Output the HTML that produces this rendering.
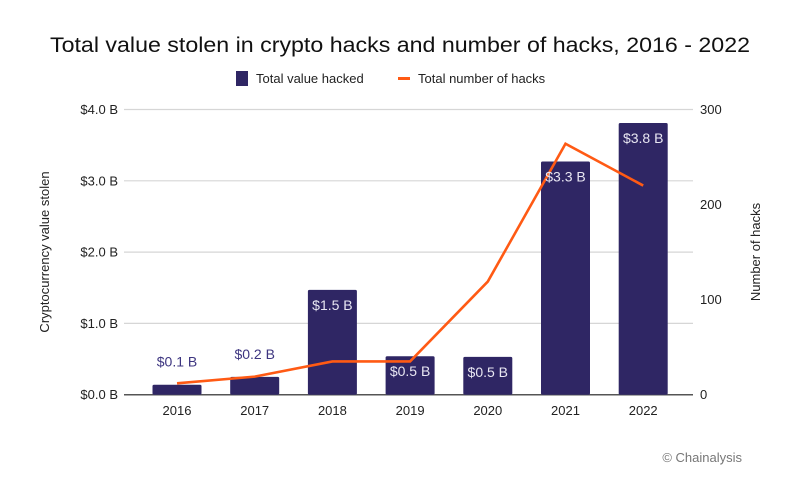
<!DOCTYPE html>
<html><head><meta charset="utf-8"><style>
body{margin:0;background:#fff;font-family:"Liberation Sans",sans-serif}
svg text{font-family:"Liberation Sans",sans-serif}
</style></head><body>
<svg id="chart" width="786" height="490" viewBox="0 0 786 490" xmlns="http://www.w3.org/2000/svg">
<text x="400" y="52" text-anchor="middle" font-size="21" fill="#111" textLength="700" lengthAdjust="spacingAndGlyphs">Total value stolen in crypto hacks and number of hacks, 2016 - 2022</text>
<g>
<rect x="236" y="71" width="12" height="15" fill="#2f2664"/>
<text x="256" y="83" font-size="13" fill="#222">Total value hacked</text>
<rect x="398" y="77" width="12" height="3" fill="#ff5a14"/>
<text x="418" y="83" font-size="13" fill="#222">Total number of hacks</text>
</g>
<g id="grid"></g><g id="bars"></g><g id="line"></g><g id="labels"></g>
<text transform="translate(49,252) rotate(-90)" text-anchor="middle" font-size="13" fill="#222">Cryptocurrency value stolen</text>
<text transform="translate(760,252) rotate(-90)" text-anchor="middle" font-size="13" fill="#222">Number of hacks</text>
<text x="742" y="462" text-anchor="end" font-size="13" fill="#777">© Chainalysis</text>
</svg>
<script>
const categories=["2016","2017","2018","2019","2020","2021","2022"];
const valueHacked=[0.14,0.25,1.47,0.54,0.53,3.27,3.81];
const valueLabels=["$0.1 B","$0.2 B","$1.5 B","$0.5 B","$0.5 B","$3.3 B","$3.8 B"];
const numberOfHacks=[12,19,35,35,119,264,220];
const leftTicks=[0,1,2,3,4];
const leftTickLabels=["$0.0 B","$1.0 B","$2.0 B","$3.0 B","$4.0 B"];
const rightTicks=[0,100,200,300];

const NS="http://www.w3.org/2000/svg";
const X0=124,X1=693,Y0=394.7,Y1=109.5,STEP=77.7,FIRST=177,BW=49;
const xPos=i=>FIRST+i*STEP;
const yL=v=>Y0-(v/4)*(Y0-Y1);
const yR=v=>Y0-(v/300)*(Y0-Y1);
function mk(tag,attrs,parent,txt){const e=document.createElementNS(NS,tag);for(const k in attrs)e.setAttribute(k,attrs[k]);if(txt!==undefined)e.textContent=txt;document.getElementById(parent).appendChild(e);return e;}

leftTicks.forEach((t,i)=>{
  const g=mk("line",{x1:X0,x2:X1,y1:yL(t),y2:yL(t),stroke:t===0?"#555":"#d6d6d6","stroke-width":t===0?1.5:1.2},"grid");
  
  
  const l=mk("text",{x:118,y:yL(t)+4.5,"text-anchor":"end","font-size":13,fill:"#222"},"grid",leftTickLabels[i]);
  
  
});
rightTicks.forEach(t=>{
  const l=mk("text",{x:700,y:yR(t)+4.5,"font-size":13,fill:"#222"},"grid",String(t));
  
  
});
categories.forEach((c,i)=>{
  const x=xPos(i),top=yL(valueHacked[i]);
  const b=mk("rect",{x:x-BW/2,y:top,width:BW,height:Y0-top,fill:"#2f2664",rx:1.5},"bars");
  
  
  const xl=mk("text",{x:x,y:415,"text-anchor":"middle","font-size":13,fill:"#222"},"labels",c);
  
  
  const inside=(Y0-top)>28;
  const vl=mk("text",{x:x,y:inside?top+20:top-18,"text-anchor":"middle","font-size":14,fill:inside?"#e8e6f2":"#3d3580"},"labels",valueLabels[i]);
  
  
});
const pts=numberOfHacks.map((v,i)=>xPos(i)+","+yR(v)).join(" ");
const pl=mk("polyline",{points:pts,fill:"none",stroke:"#ff5a14","stroke-width":2.6},"line");


</script>
</body></html>
